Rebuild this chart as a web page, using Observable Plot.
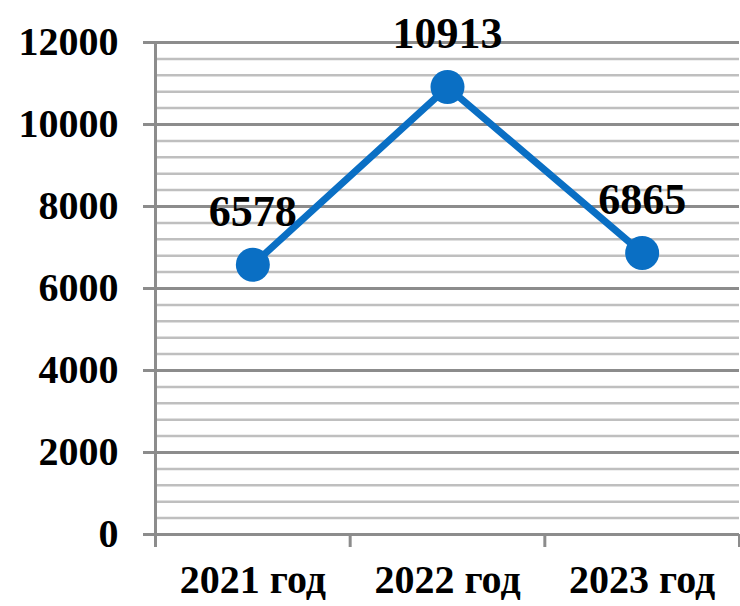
<!DOCTYPE html>
<html>
<head>
<meta charset="utf-8">
<script src="https://cdn.jsdelivr.net/npm/d3@7"></script>
<script src="https://cdn.jsdelivr.net/npm/@observablehq/plot@0.6"></script>
<style>
  html, body { margin: 0; padding: 0; background: #fff; }
  #chart { width: 740px; height: 606px; }
</style>
</head>
<body>
<div id="chart"></div>
<script>
const categories = ["2021 год", "2022 год", "2023 год"];
const values = [6578, 10913, 6865];
const yMajorTicks = [0, 2000, 4000, 6000, 8000, 10000, 12000];
const yMinorTicks = [400, 800, 1200, 1600, 2400, 2800, 3200, 3600, 4400, 4800, 5200, 5600,
  6400, 6800, 7200, 7600, 8400, 8800, 9200, 9600, 10400, 10800, 11200, 11600];
const xBoundaries = [0, 1, 2, 3];

const data = categories.map((c, i) => ({cat: c, pos: i + 0.5, value: values[i]}));

const font = "'Liberation Serif', 'Times New Roman', serif";
const blue = "#0a6fc4";

const chart = Plot.plot({
  width: 740,
  height: 606,
  marginLeft: 155,
  marginRight: 1,
  marginTop: 42,
  marginBottom: 72,
  style: {fontFamily: font, background: "#fff"},
  x: {domain: [0, 3]},
  y: {domain: [0, 12000]},
  marks: [
    Plot.ruleY(yMinorTicks, {stroke: "#bfbfbf", strokeWidth: 2.5}),
    Plot.ruleY(yMajorTicks, {stroke: "#8c8c8c", strokeWidth: 3}),
    Plot.ruleX([0], {y1: 0, y2: 12000, stroke: "#8c8c8c", strokeWidth: 3}),
    Plot.axisY(yMajorTicks, {
      tickSize: 12, tickPadding: 25, stroke: "#8c8c8c", strokeWidth: 3,
      fontSize: 40, fontWeight: "bold", fill: "#000", label: null,
      tickFormat: d => String(d)
    }),
    Plot.axisX(xBoundaries, {
      tickSize: 13, stroke: "#8c8c8c", strokeWidth: 3, tickFormat: () => "", label: null
    }),
    Plot.axisX(data.map(d => d.pos), {
      tickSize: 0, tickPadding: 30, fontSize: 40, fontWeight: "bold", fill: "#000",
      tickFormat: (d) => categories[Math.floor(d)], label: null
    }),
    Plot.line(data, {x: "pos", y: "value", stroke: blue, strokeWidth: 7}),
    Plot.dot(data, {x: "pos", y: "value", r: 17, fill: blue, stroke: "none"}),
    Plot.text(data, {
      x: "pos", y: "value", text: d => String(d.value), dy: -53,
      fontSize: 44, fontWeight: "bold", fill: "#000"
    })
  ]
});
document.getElementById("chart").appendChild(chart);
</script>
</body>
</html>
